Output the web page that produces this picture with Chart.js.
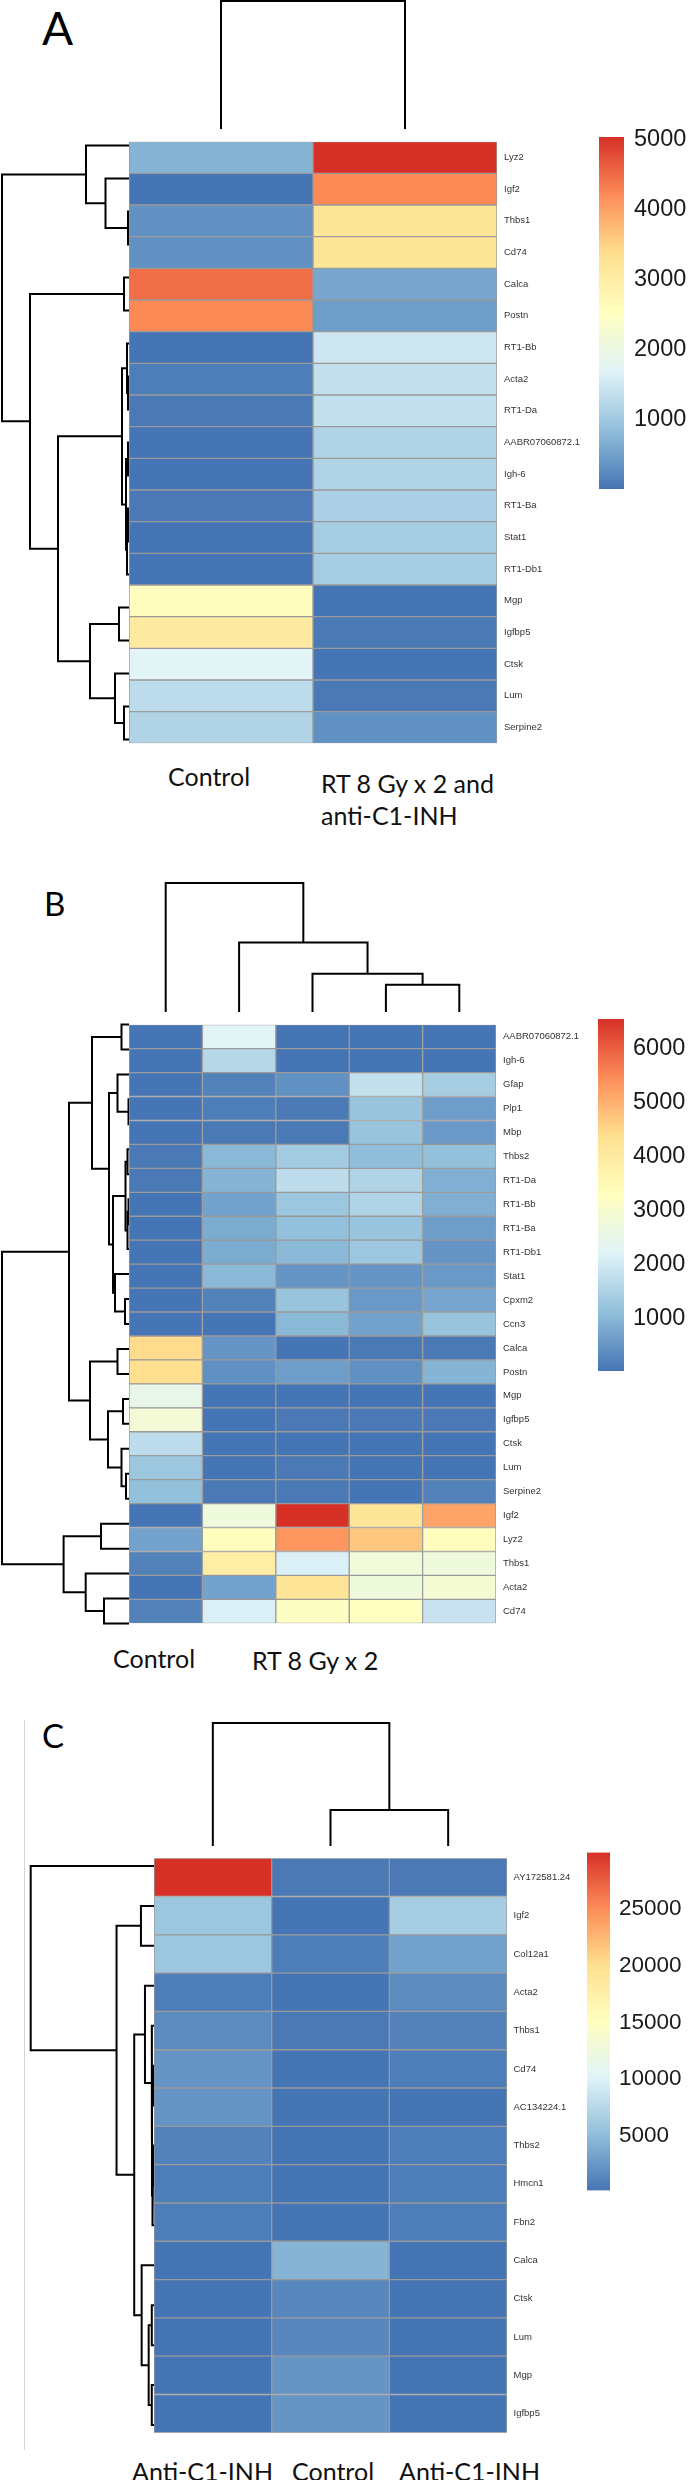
<!DOCTYPE html>
<html>
<head>
<meta charset="utf-8">
<script src="https://cdn.jsdelivr.net/npm/chart.js@4.4.1/dist/chart.umd.min.js"></script>
<style>
html, body { margin: 0; padding: 0; background: #fff; }
body { width: 688px; height: 2480px; position: relative; overflow: hidden; }
canvas { display: block; }
.grp { position: absolute; font-family: Lato, "Open Sans", sans-serif; font-size: 25px; line-height: 1; color: #111; white-space: nowrap; }
.tag { position: absolute; font-family: Lato, "Open Sans", sans-serif; line-height: 1; color: #000; }
.rule { position: absolute; width: 1px; background: #d6d6d6; }
</style>
</head>
<body>
<div class="tag" style="left:42px;top:5px;font-size:46px;">A</div>
<div class="grp" style="left:168px;top:764px;">Control</div>
<div class="grp" style="left:321px;top:771px;">RT 8 Gy x 2 and</div>
<div class="grp" style="left:321px;top:803px;">anti-C1-INH</div>

<div class="tag" style="left:44px;top:887px;font-size:33px;">B</div>
<div class="grp" style="left:113px;top:1646px;">Control</div>
<div class="grp" style="left:252px;top:1648px;">RT 8 Gy x 2</div>

<div class="rule" style="left:24px;top:1720px;height:730px;"></div>
<div class="tag" style="left:42px;top:1719px;font-size:33px;">C</div>
<div class="grp" style="left:132px;top:2459px;">Anti-C1-INH</div>
<div class="grp" style="left:292px;top:2459px;">Control</div>
<div class="grp" style="left:399px;top:2459px;">Anti-C1-INH</div>

<script>
// pheatmap default palette: rev(RdYlBu, 7)
var PALETTE = ['#4575B4', '#91BFDB', '#E0F3F8', '#FFFFBF', '#FEE090', '#FC8D59', '#D73027'];

// ---- Panel A: Control vs RT 8 Gy x 2 and anti-C1-INH
var genesA = ['Lyz2', 'Igf2', 'Thbs1', 'Cd74', 'Calca', 'Postn', 'RT1-Bb', 'Acta2', 'RT1-Da',
    'AABR07060872.1', 'Igh-6', 'RT1-Ba', 'Stat1', 'RT1-Db1', 'Mgp', 'Igfbp5', 'Ctsk', 'Lum', 'Serpine2'];
var controlA = [760, 60, 345, 340, 4460, 4200, 50, 142, 110, 10, 15, 100, 60, 60, 2540, 3060, 1760, 1330, 1200];
var rtInhA = [5040, 4190, 3220, 3180, 585, 500, 1470, 1395, 1380, 1210, 1190, 1120, 1075, 1100, 20, 100, 20, 100, 330];
var ticksA = [1000, 2000, 3000, 4000, 5000];
// dendrograms: [left, right, mergeHeight], numbers are leaf indices
var rowTreeA = [[0, [1, [2, 3, 1], 23.5], 43],
    [[4, 5, 5],
     [[[6, [7, 8, 1], 2], [[9, 10, 1], [[11, 12, 1], 13, 2], 3], 7],
      [[14, 15, 10], [16, [17, 18, 5], 14], 39], 71], 99], 127];
var colTreeA = [0, 1, 128];

// ---- Panel B: Control vs four RT 8 Gy x 2 samples
var genesB = ['AABR07060872.1', 'Igh-6', 'Gfap', 'Plp1', 'Mbp', 'Thbs2', 'RT1-Da', 'RT1-Bb', 'RT1-Ba',
    'RT1-Db1', 'Stat1', 'Cpxm2', 'Ccn3', 'Calca', 'Postn', 'Mgp', 'Igfbp5', 'Ctsk', 'Lum', 'Serpine2',
    'Igf2', 'Lyz2', 'Thbs1', 'Acta2', 'Cd74'];
var controlB = [20, 20, 20, 20, 20, 110, 110, 70, 70, 70, 70, 20, 20, 4450, 4360, 2490, 2850, 1770, 1280, 1160, 60, 700, 250, 60, 230];
var rt1B = [2260, 1600, 230, 160, 100, 1060, 980, 675, 850, 850, 1060, 270, 80, 490, 440, 40, 40, 30, 20, 100, 2710, 3330, 3930, 720, 2140];
var rt2B = [60, 60, 460, 130, 120, 1350, 1780, 1270, 1180, 1050, 540, 1220, 1020, 60, 650, 60, 100, 30, 100, 100, 6540, 5320, 2170, 4250, 3160];
var rt3B = [20, 20, 1840, 1240, 1220, 1090, 1570, 1520, 1240, 1270, 510, 590, 730, 110, 440, 20, 130, 30, 40, 40, 4180, 4700, 2820, 2730, 3270];
var rt4B = [20, 20, 1420, 640, 560, 1180, 920, 910, 645, 540, 550, 760, 1210, 120, 960, 50, 150, 30, 20, 230, 5150, 3340, 2700, 2900, 1850];
var ticksB = [1000, 2000, 3000, 4000, 5000, 6000];
var rowTreeB = [[[[0, 1, 7.5],
      [[2, [3, 4, 0.5], 11.5],
       [[[5, 6, 1.5], [[7, 8, 0.5], 9, 1.5], 3.5], [10, [11, 12, 4], 14], 16], 20], 37],
     [[13, 14, 11.5], [[15, 16, 6], [17, [18, 19, 3], 7.5], 21], 39], 60],
    [[20, 21, 28], [22, [23, 24, 25], 43.3], 65.4], 127];
var colTreeB = [0, [1, [2, [3, 4, 27], 38], 69], 128];

// ---- Panel C: Anti-C1-INH / Control / Anti-C1-INH
var genesC = ['AY172581.24', 'Igf2', 'Col12a1', 'Acta2', 'Thbs1', 'Cd74', 'AC134224.1', 'Thbs2',
    'Hmcn1', 'Fbn2', 'Calca', 'Ctsk', 'Lum', 'Mgp', 'Igfbp5'];
var antiC1 = [30000, 5960, 5900, 900, 1870, 2260, 2350, 1220, 900, 900, 300, 300, 300, 300, 400];
var controlC = [500, 170, 890, 300, 500, 450, 300, 300, 300, 300, 4350, 1450, 1430, 2450, 2550];
var antiC2 = [500, 6640, 3450, 1870, 1210, 850, 300, 900, 880, 820, 300, 300, 300, 300, 300];
var ticksC = [5000, 10000, 15000, 20000, 25000];
var rowTreeC = [0,
    [[1, 2, 13],
     [[3, [4, [[5, 6, 1], [[7, 8, 1], 9, 1.5], 2], 2.2], 9],
      [10, [[11, 12, 2.2], [13, 14, 2.2], 5.3], 12.3], 19.7], 37.3], 122.8];
var colTreeC = [0, [1, 2, 36], 123];

var LABEL_FONT = "'Liberation Sans', Arial, sans-serif";

function hexToRgb(h) {
    return [parseInt(h.slice(1, 3), 16), parseInt(h.slice(3, 5), 16), parseInt(h.slice(5, 7), 16)];
}

// 100-step ramp like colorRampPalette(...)(100)
var RAMP = (function () {
    var stops = PALETTE.map(hexToRgb), out = [];
    for (var i = 0; i < 100; i++) {
        var t = i / 99 * (stops.length - 1);
        var k = Math.min(Math.floor(t), stops.length - 2), f = t - k;
        var rgb = [0, 1, 2].map(function (j) { return Math.round(stops[k][j] + (stops[k + 1][j] - stops[k][j]) * f); });
        out.push('rgb(' + rgb.join(',') + ')');
    }
    return out;
})();

function colorFor(v, lo, hi) {
    var i = Math.floor((v - lo) / (hi - lo) * 100);
    return RAMP[Math.max(0, Math.min(99, i))];
}

function place(left, top, w, h) {
    var c = document.createElement('canvas');
    c.width = Math.round(w);
    c.height = Math.round(h);
    c.style.position = 'absolute';
    c.style.left = left + 'px';
    c.style.top = top + 'px';
    document.body.appendChild(c);
    return c;
}

var BASE = {
    responsive: false,
    animation: false,
    events: [],
    plugins: { legend: { display: false }, tooltip: { enabled: false } }
};

function opts(extra) {
    return Object.assign({}, BASE, extra);
}

// walk the tree and collect one U-shaped segment per merge
function treeSegments(node, segs) {
    if (typeof node === 'number') return { pos: node + 0.5, h: 0 };
    var a = treeSegments(node[0], segs), b = treeSegments(node[1], segs), h = node[2];
    segs.push([[a.pos, a.h], [a.pos, h], [b.pos, h], [b.pos, b.h]]);
    return { pos: (a.pos + b.pos) / 2, h: h };
}

function dendroDatasets(tree, horizontal) {
    var segs = [];
    treeSegments(tree, segs);
    return segs.map(function (s) {
        return {
            data: s.map(function (p) { return horizontal ? { x: p[1], y: p[0] } : { x: p[0], y: p[1] }; }),
            showLine: true, borderColor: '#000', borderWidth: 2, pointRadius: 0,
            tension: 0, fill: false, clip: false, borderJoinStyle: 'miter'
        };
    });
}

function rowDendro(p) {
    var el = place(0, p.top, p.left, p.h);
    new Chart(el, {
        type: 'scatter',
        data: { datasets: dendroDatasets(p.rowTree, true) },
        options: opts({
            layout: { padding: { left: p.rootX, right: 0, top: 0, bottom: 0 } },
            scales: {
                x: { type: 'linear', min: 0, max: p.rowTree[2], reverse: true, display: false },
                y: { type: 'linear', min: 0, max: p.genes.length, reverse: true, display: false }
            }
        })
    });
}

function colDendro(p) {
    var el = place(p.left, p.colTop - 2, p.w, p.top - p.colTop + 2);
    new Chart(el, {
        type: 'scatter',
        data: { datasets: dendroDatasets(p.colTree, false) },
        options: opts({
            layout: { padding: { left: 0, right: 0, top: 2, bottom: 0 } },
            scales: {
                x: { type: 'linear', min: 0, max: p.series.length, display: false },
                y: { type: 'linear', min: 0, max: p.colTree[2], display: false }
            }
        })
    });
}

function heatmap(p) {
    var labelW = 110;
    var el = place(p.left, p.top, p.w + labelW, p.h);
    var datasets = p.series.map(function (vals, c) {
        return {
            data: vals.map(function () { return [c, c + 1]; }),
            backgroundColor: vals.map(function (v) { return colorFor(v, p.lo, p.hi); }),
            borderColor: '#9a9a9a', borderWidth: 1, borderSkipped: false,
            grouped: false, categoryPercentage: 1, barPercentage: 1
        };
    });
    new Chart(el, {
        type: 'bar',
        data: { labels: p.genes, datasets: datasets },
        options: opts({
            indexAxis: 'y',
            layout: { padding: 0 },
            scales: {
                x: { type: 'linear', min: 0, max: p.series.length, display: false },
                y: {
                    position: 'right',
                    grid: { display: false, drawTicks: false },
                    border: { display: false },
                    ticks: { autoSkip: false, padding: p.labelPad, color: '#333',
                             font: { family: LABEL_FONT, size: 9.5 } },
                    afterFit: function (s) { s.width = labelW; }
                }
            }
        })
    });
}

function colorbar(p) {
    var pad = 16, axisW = 688 - p.barX - p.barW;
    var el = place(p.barX, p.barTop - pad, p.barW + axisW, p.barBottom - p.barTop + 2 * pad);
    new Chart(el, {
        type: 'bar',
        data: {
            labels: [''],
            datasets: [{
                data: [[p.lo, p.hi]],
                borderWidth: 0, categoryPercentage: 1, barPercentage: 1,
                backgroundColor: function (ctx) {
                    var y = ctx.chart.scales.y;
                    if (!y || !ctx.chart.chartArea) return PALETTE[0];
                    var y0 = y.getPixelForValue(p.lo), y1 = y.getPixelForValue(p.hi);
                    if (!isFinite(y0) || !isFinite(y1)) return PALETTE[0];
                    var g = ctx.chart.ctx.createLinearGradient(0, y0, 0, y1);
                    PALETTE.forEach(function (c, i) { g.addColorStop(i / (PALETTE.length - 1), c); });
                    return g;
                }
            }]
        },
        options: opts({
            layout: { padding: { top: pad, bottom: pad, left: 0, right: 0 } },
            scales: {
                x: { display: false },
                y: {
                    min: p.lo, max: p.hi, position: 'right',
                    grid: { display: false, drawTicks: false },
                    border: { display: false },
                    afterBuildTicks: function (s) { s.ticks = p.ticks.map(function (v) { return { value: v }; }); },
                    ticks: {
                        padding: p.tickPad, color: '#1a1a1a',
                        font: { family: LABEL_FONT, size: p.tickSize },
                        callback: function (v) { return String(v); }
                    },
                    afterFit: function (s) { s.width = axisW; }
                }
            }
        })
    });
}

function panel(p) {
    var all = [].concat.apply([], p.series);
    p.lo = Math.min.apply(null, all);
    p.hi = Math.max.apply(null, all);
    heatmap(p);
    rowDendro(p);
    colDendro(p);
    colorbar(p);
}

panel({
    genes: genesA, series: [controlA, rtInhA], rowTree: rowTreeA, colTree: colTreeA, ticks: ticksA,
    left: 129, top: 129, w: 368, h: 627, rootX: 2, colTop: 1, labelPad: 7,
    barX: 599, barW: 25, barTop: 129, barBottom: 497, tickPad: 10, tickSize: 23.5
});

panel({
    genes: genesB, series: [controlB, rt1B, rt2B, rt3B, rt4B], rowTree: rowTreeB, colTree: colTreeB, ticks: ticksB,
    left: 129, top: 1012, w: 367, h: 624, rootX: 2, colTop: 883, labelPad: 7,
    barX: 598, barW: 26, barTop: 1012, barBottom: 1378, tickPad: 9, tickSize: 23.5
});

panel({
    genes: genesC, series: [antiC1, controlC, antiC2], rowTree: rowTreeC, colTree: colTreeC, ticks: ticksC,
    left: 153.5, top: 1846, w: 353, h: 599, rootX: 30.7, colTop: 1723, labelPad: 6.5,
    barX: 587, barW: 23, barTop: 1846, barBottom: 2197, tickPad: 9, tickSize: 22.5
});
</script>
</body>
</html>
